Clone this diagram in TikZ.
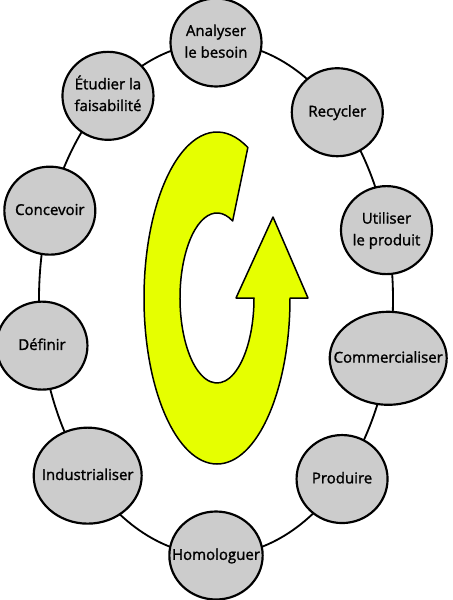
\documentclass[tikz,border=0pt]{standalone}
\usepackage{fontspec}
\setmainfont{Open Sans}
\newfontfamily\stagefont{Open Sans}[BoldFont={Open Sans}, BoldFeatures={FakeBold=1.5}]
\usetikzlibrary{shapes.geometric}
\definecolor{cStage}{HTML}{CCCCCC}
\definecolor{cArrow}{HTML}{E6FF00}
\newcommand{\stagetext}[1]{\makebox[0pt]{\begin{tabular}{@{}c@{}}#1\end{tabular}}}
\tikzset{
  ring/.style={ellipse, draw=black, line width=0.55mm, inner sep=0pt, outer sep=0pt,
    minimum width=106.2mm, minimum height=153.9mm},
  stage/.style={ellipse, draw=black, fill=cStage, line width=0.65mm, inner sep=0pt,
    minimum width=27.3mm, minimum height=26.4mm,
    font=\stagefont\fontsize{12.8}{18.5}\selectfont\bfseries},
  widestage/.style={stage, minimum width=35.1mm, minimum height=27.9mm},
  cyclearrow/.style={draw=black, fill=cArrow, line width=0.45mm, line join=round},
}

\begin{document}
\begin{tikzpicture}[x=0.3mm, y=0.3mm]
  \useasboundingbox (0,0) rectangle (452,-600);

  % ----------------------------------------------------------------
  % Ring that links the stages
  % ----------------------------------------------------------------
  \node[ring] (ring) at (216,-299) {};

  % ----------------------------------------------------------------
  % Yellow turning arrow in the middle
  % ----------------------------------------------------------------
  \begin{scope}[shift={(217,-298)}]
    \draw[cyclearrow] (73,0)
      arc[start angle=0, end angle=-295, x radius=73, y radius=166]
      -- ({37*cos(65)},{85*sin(65)})
      arc[start angle=65, end angle=360, x radius=37, y radius=85]
      -- (19,0) -- (56,81) -- (91,0) -- cycle;
  \end{scope}

  % ----------------------------------------------------------------
  % Stages of the life cycle
  % ----------------------------------------------------------------
  \node[stage] (analyser) at (ring.90)    {\stagetext{Analyser\\le besoin}};
  \node[stage] (etudier)  at (ring.118)   {\stagetext{Étudier la\\faisabilité}};
  \node[stage] (concevoir) at (ring.152.6) {\stagetext{Concevoir}};
  \node[stage] (definir)  at (ring.195.3) {\stagetext{Définir}};
  \node[widestage, minimum width=32.4mm, minimum height=28.8mm] (indus) at (ring.234)
    {\stagetext{Industrialiser}};
  \node[stage, minimum width=28mm] (homologuer) at (ring.270) {\stagetext{Homologuer}};
  \node[stage] (produire) at (ring.-55.5) {\stagetext{Produire}};
  \node[widestage] (commercialiser) at (ring.-19.3) {\stagetext{Commercialiser}};
  \node[stage] (utiliser) at (ring.22.3)  {\stagetext{Utiliser\\le produit}};
  \node[stage] (recycler) at (ring.57.4)  {\stagetext{Recycler}};

\end{tikzpicture}
\end{document}
